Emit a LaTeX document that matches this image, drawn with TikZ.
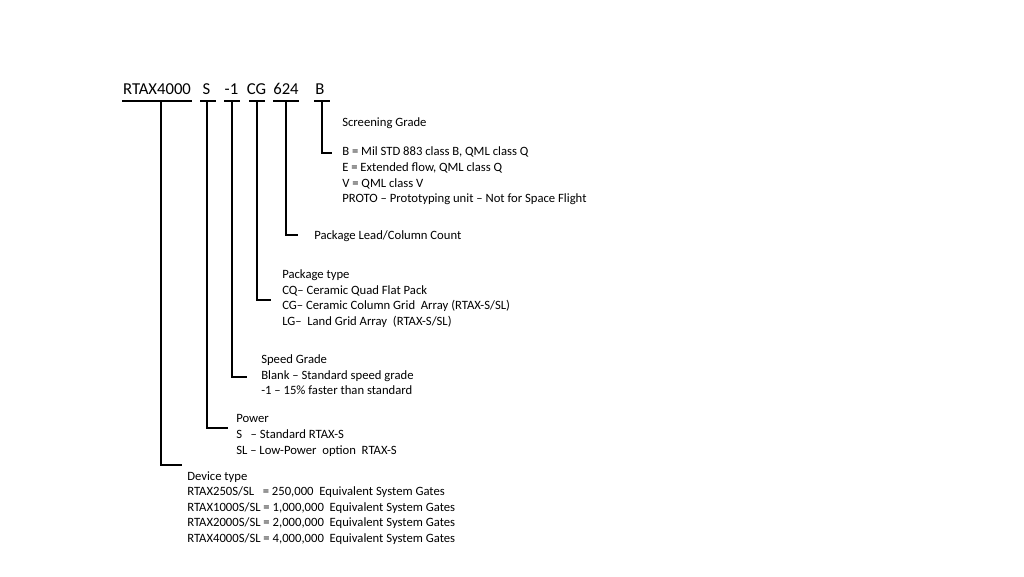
\documentclass[tikz,border=0pt]{standalone}
\usepackage{fontspec}
\setmainfont{Carlito}
\begin{document}
\begin{tikzpicture}[x=0.75pt,y=-0.75pt,
  code/.style={font=\fontsize{12.5pt}{15pt}\selectfont, inner sep=0pt, anchor=base},
  desc/.style={font=\fontsize{9.5pt}{11.6pt}\selectfont, inner sep=0pt, anchor=base west},
  lead/.style={line width=1.5pt, black}]
\useasboundingbox (0,0) rectangle (1024,576);
% part number tokens
\node[code] (t1) at (157,94) {RTAX4000};
\node[code] (t2) at (206.5,94) {S};
\node[code] (t3) at (231.5,94) {-1};
\node[code] (t4) at (256.5,94) {CG};
\node[code] (t5) at (286,94) {624};
\node[code] (t6) at (320,94) {B};
% underlines
\coordinate (u1a) at (122,101); \coordinate (u1b) at (192,101);
\coordinate (u2a) at (200,101); \coordinate (u2b) at (216,101);
\coordinate (u3a) at (224,101); \coordinate (u3b) at (240,101);
\coordinate (u4a) at (249,101); \coordinate (u4b) at (265,101);
\coordinate (u5a) at (273,101); \coordinate (u5b) at (299,101);
\coordinate (u6a) at (314,101); \coordinate (u6b) at (330,101);
\foreach \i in {1,...,6} \draw[lead] (u\i a) -- (u\i b);
% descriptions
\node[desc] (g1) at (342,126) {Screening Grade};
\node[desc] (g2) at (342,155) {B = Mil STD 883 class B, QML class Q};
\node[desc] (g3) at (342,171) {E = Extended flow, QML class Q};
\node[desc] (g4) at (342,187) {V = QML class V};
\node[desc] (g5) at (342,202) {PROTO -- Prototyping unit -- Not for Space Flight};
\node[desc] (l1) at (314,239) {Package Lead/Column Count};
\node[desc] (p1) at (282,278) {Package type};
\node[desc] (p2) at (282,294) {CQ-- Ceramic Quad Flat Pack};
\node[desc] (p3) at (282,309) {CG-- Ceramic Column Grid\ \ Array (RTAX-S/SL)};
\node[desc] (p4) at (282,325) {LG--\ \ Land Grid Array\ \ (RTAX-S/SL)};
\node[desc] (s1) at (261,363) {Speed Grade};
\node[desc] (s2) at (261,379) {Blank -- Standard speed grade};
\node[desc] (s3) at (261,394) {-1 -- 15\% faster than standard};
\node[desc] (w1) at (236,422) {Power};
\node[desc] (w2) at (236,438) {S\ \ \ -- Standard RTAX-S};
\node[desc] (w3) at (236,454) {SL -- Low-Power\ \ option\ \ RTAX-S};
\node[desc] (d1) at (187,480) {Device type};
\node[desc] (d2) at (187,495) {RTAX250S/SL\ \ \ = 250,000\ \ Equivalent System Gates};
\node[desc] (d3) at (187,511) {RTAX1000S/SL = 1,000,000\ \ Equivalent System Gates};
\node[desc] (d4) at (187,526) {RTAX2000S/SL = 2,000,000\ \ Equivalent System Gates};
\node[desc] (d5) at (187,542) {RTAX4000S/SL = 4,000,000\ \ Equivalent System Gates};
% leader corners
\coordinate (v6) at (322,101); \coordinate (c6) at (322,153); \coordinate (e6) at (332,153);
\coordinate (v5) at (286,101); \coordinate (c5) at (286,235); \coordinate (e5) at (298,235);
\coordinate (v4) at (257,101); \coordinate (c4) at (257,300); \coordinate (e4) at (271,300);
\coordinate (v3) at (232,101); \coordinate (c3) at (232,377); \coordinate (e3) at (247,377);
\coordinate (v2) at (207,101); \coordinate (c2) at (207,428); \coordinate (e2) at (228,428);
\coordinate (v1) at (161,101); \coordinate (c1) at (161,465); \coordinate (e1) at (182,465);
\foreach \i in {1,...,6} \draw[lead] (v\i) -- (c\i) -- (e\i);
\end{tikzpicture}
\end{document}
